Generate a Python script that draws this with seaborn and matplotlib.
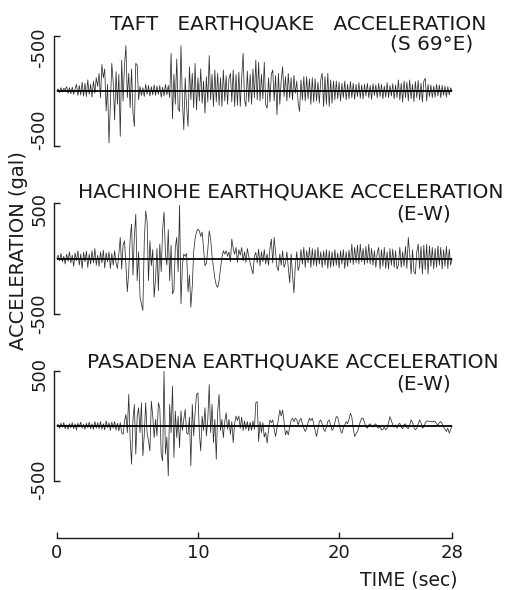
import numpy as np
import pandas as pd
import matplotlib
matplotlib.use("Agg")
import matplotlib.pyplot as plt
import matplotlib.transforms as mtransforms
import seaborn as sns

# Ground acceleration records (gal), sampled every 0.1 s from 0 to 28 s
DT = 0.1

TAFT = [
    0, 20, -15, 30, -10, 25, 10, 40, -20, 30,
    -25, 35, -30, 20, 60, -40, 50, -35, 80, -45,
    70, -50, 100, -30, 60, -55, 90, -20, 120, 40,
    160, -60, 240, 120, 200, -180, 60, -470, -100, 250,
    80, -260, 175, -120, 150, -410, 280, -90, 230, 410,
    -60, 160, -150, 200, -200, -320, 250, 235, -80, 40,
    -40, 30, -50, 60, -30, 50, -45, 40, -35, 55,
    -40, 45, -30, 50, -55, 35, -45, 60, -35, 50,
    -60, 340, -250, 150, -120, 290, -160, -185, 410, -90,
    -350, 120, -140, -320, 220, -80, 160, -150, 250, -170,
    120, -90, 200, -110, 90, -200, 130, -100, 320, -80,
    150, -140, 190, -100, 160, -130, 120, -140, 190, -90,
    140, -120, 110, 160, -100, 190, -140, 150, -130, 170,
    -140, 120, 340, -80, -140, 180, -100, 150, -120, 200,
    -60, 280, -80, 260, -90, 150, -70, 260, -120, -155,
    120, -100, 150, 190, -90, 140, -215, 160, -120, 100,
    220, -50, 130, -90, 160, -60, 120, -80, 140, -20,
    90, -110, -185, 100, -80, 130, -90, 130, -70, 110,
    -120, 120, -100, 110, -90, 80, -110, 100, 160, -140,
    130, -120, 160, -140, 100, -110, 90, -80, 90, -70,
    80, -90, 70, -60, 90, -80, 60, -70, 85, -60,
    70, -75, 60, -50, 75, -65, 55, -70, 60, -45,
    70, -60, 50, -75, 65, -40, 55, -60, 70, -50,
    60, -70, 45, -55, 75, -60, 50, -45, 65, -70,
    55, -60, 100, -80, 70, -100, 90, -60, 80, -90,
    100, -70, 60, -95, 85, -60, 95, -80, 70, -100,
    90, 115, -90, 60, -50, 55, -60, 45, -55, 60,
    -45, 55, -60, 50, -40, 45, -55, 40, -35, 30,
    0,
]

HACHINOHE = [
    0, 30, -20, 45, -30, 20, -50, 40, -25, 60,
    -40, 30, -70, 50, -20, 70, -60, 40, -90, 55,
    -30, 65, -80, 40, -50, 70, -40, 90, -60, 30,
    -70, 60, -40, 75, -85, 50, -30, 60, -90, 45,
    -60, 70, -40, -90, 40, 190, -95, 120, 160, -60,
    -300, -120, 180, 310, -150, 200, 400, -200, 60, -350,
    -410, -470, 150, 430, 340, -200, 160, -65, 80, -350,
    -180, 90, -290, 130, -120, 260, 420, 40, -60, 260,
    -200, 120, -320, -290, 100, 190, -120, 480, -410, -60,
    40, 20, 45, -300, -150, -440, -250, 60, 180, 240,
    265, 250, 200, 240, 90, -65, -40, 80, 250, 180,
    20, -80, -180, -240, -260, -200, -90, 10, 70, 40,
    70, 20, 60, -30, 175, 90, 40, 100, -35, 80,
    30, 100, -20, 60, -35, 90, 20, -40, -90, -140,
    20, 55, -40, 85, -65, 60, -30, 80, -50, 40,
    -60, 90, 175, -40, 190, 60, -80, -110, 40, -60,
    70, -80, -40, 60, -80, -220, 40, -150, -310, -60,
    60, -110, -60, 80, -50, 100, -80, 70, -40, 100,
    -80, 90, -60, 80, -70, 100, -50, 60, -80, 70,
    -60, 80, -90, 70, -80, 60, -70, 80, -60, 50,
    -85, 70, -50, 80, -90, 60, -70, 75, -40, 130,
    -55, 100, -40, 120, -50, 130, -30, 90, -55, 110,
    -40, 130, -50, 90, -60, 70, -80, 50, 100, -95,
    80, -70, 100, -90, 60, -95, 90, -60, 85, -80,
    70, -95, -60, 100, -80, 60, -70, 110, -90, 190,
    40, -140, 80, -120, -140, 60, 130, -90, 110, -140,
    120, -100, 130, -140, 115, -70, 100, -95, 90, -80,
    115, -60, 100, -95, 80, -70, 110, -90, 85, -60,
    0,
]

PASADENA = [
    0, 15, -20, 25, -10, 30, -25, 10, -30, 20,
    -15, 30, -25, 20, -35, 25, -10, 35, -20, 15,
    -30, 25, -15, 35, -25, 20, -30, 40, -20, 30,
    -25, 40, -30, 20, -35, 45, -15, 30, -40, 35,
    -20, 40, -35, 25, -45, 30, -60, -75, 40, 105,
    -60, 285, -120, -345, 60, 195, -255, 90, 165, -60,
    210, -270, -80, 210, -60, -135, -225, 225, 90, -105,
    60, -90, 210, 165, -255, -315, 495, -255, -100, -450,
    195, -60, 360, -285, 135, -105, 90, -195, 135, -40,
    60, 150, -60, -75, 80, -360, 195, -90, 120, 285,
    300, -60, -225, 90, -40, 165, -90, 60, 375, -60,
    195, -150, 60, -300, 135, 285, -40, 60, -105, 40,
    120, -30, 60, -75, 40, -150, 20, 90, 50, 90,
    -20, 80, -40, 45, -30, 40, -45, 35, -40, 45,
    -30, 210, 220, -140, 40, -60, 30, -100, -60, -155,
    -40, 55, 30, 55, -30, -95, -20, 60, 145, 90,
    145, 40, -80, -40, -80, -10, 50, 70, 40, 70,
    60, 10, 50, 70, 20, -20, -50, -20, 30, 70,
    50, 70, 20, -40, -95, -30, 40, 55, 20, -30,
    -50, -10, 40, 55, 10, -40, -20, 30, 85, 80,
    20, -40, -65, -20, 10, 40, 20, 60, 115, 80,
    -20, -95, -70, -50, -10, 40, 70, 70, 30, -10,
    -20, 10, 20, 0, -10, 10, 20, -10, -20, 0,
    -35, -30, -10, -35, -20, 30, 85, 50, 10, -10,
    10, -20, 15, 25, -10, -25, 10, 20, -15, -25,
    10, 55, 30, -10, -35, -20, 20, 55, 30, -20,
    -10, 30, 45, 45, 40, 45, 35, 45, 40, 20,
    10, 30, 40, 20, -10, -30, -50, -20, -65, -30,
    0,
]

TITLES = [
    "TAFT   EARTHQUAKE   ACCELERATION",
    "HACHINOHE EARTHQUAKE ACCELERATION",
    "PASADENA EARTHQUAKE ACCELERATION",
]
COMPONENTS = ["(S 69°E)", "(E-W)", "(E-W)"]
Y_TICKS = [500, -500]
Y_TICK_LABELS = [
    ["-500", "-500"],
    ["500", "-500"],
    ["500", "-500"],
]
TIME_TICKS = [0, 10, 20, 28]
TIME_TICK_LABELS = ["0", "10", "20", "28"]

sns.set_theme(style="white")
plt.rcParams["font.family"] = ["DejaVu Sans"]

W, H = 509, 590
fig = plt.figure(figsize=(W / 100, H / 100), dpi=100)
fig.patch.set_facecolor("white")
INK = "#1a1a1a"
TRACE = "#2e2e2e"


def fpos(x, y):
    """Pixel position (from the top-left corner) to figure fraction."""
    return x / W, 1 - y / H


XLIM = (-0.2, 28.3)
YLIM = (-560, 560)
AX_LEFT = 53.9 / W
AX_WIDTH = 402.4 / W
AX_HEIGHT = 123.9 / H

panels = [
    dict(values=TAFT, zero=91.0, nudge=(-12, 17), title_xy=(298.5, 30), comp_xy=(432, 50)),
    dict(values=HACHINOHE, zero=258.5, nudge=(-6, 0), title_xy=(291, 197), comp_xy=(424, 220)),
    dict(values=PASADENA, zero=426.0, nudge=(-3, 2), title_xy=(292.5, 367), comp_xy=(424, 390)),
]

for i, p in enumerate(panels):
    vals = np.asarray(p["values"], dtype=float)
    t = np.round(np.arange(len(vals)) * DT, 2)
    df = pd.DataFrame({"time": t, "acc": vals})

    bottom = 1 - (p["zero"] + AX_HEIGHT * H / 2) / H
    ax = fig.add_axes([AX_LEFT, bottom, AX_WIDTH, AX_HEIGHT])
    ax.patch.set_visible(False)
    sns.lineplot(data=df, x="time", y="acc", ax=ax, color=TRACE, linewidth=0.55,
                 estimator=None, sort=False)
    ax.hlines(0, df["time"].iloc[0], df["time"].iloc[-1], color="black", linewidth=1.3)

    ax.set_xlim(*XLIM)
    ax.set_ylim(*YLIM)
    ax.set_xlabel("")
    ax.set_ylabel("")
    ax.set_xticks([])
    for side in ("top", "right", "bottom"):
        ax.spines[side].set_visible(False)
    ax.spines["left"].set_bounds(-500, 500)
    ax.spines["left"].set_linewidth(1.0)
    ax.spines["left"].set_color(INK)

    ax.set_yticks(Y_TICKS)
    ax.set_yticklabels(Y_TICK_LABELS[i])
    ax.tick_params(axis="y", left=True, direction="in", length=4.3, width=1.0,
                   pad=4, labelsize=13, colors=INK)
    for lab, dy in zip(ax.get_yticklabels(), p["nudge"]):
        lab.set_rotation(90)
        lab.set_va("center")
        lab.set_transform(lab.get_transform() +
                          mtransforms.ScaledTranslation(0, dy / 100, fig.dpi_scale_trans))

    fig.text(*fpos(*p["title_xy"]), TITLES[i], ha="center", va="baseline",
             fontsize=14.5, color=INK)
    fig.text(*fpos(*p["comp_xy"]), COMPONENTS[i], ha="center", va="baseline",
             fontsize=14.5, color=INK)

# Shared time axis
axt = fig.add_axes([AX_LEFT, 1 - 538 / H, AX_WIDTH, 0.05])
axt.patch.set_visible(False)
axt.set_xlim(*XLIM)
axt.set_yticks([])
for side in ("top", "right", "left"):
    axt.spines[side].set_visible(False)
axt.spines["bottom"].set_bounds(TIME_TICKS[0], TIME_TICKS[-1])
axt.spines["bottom"].set_linewidth(1.0)
axt.spines["bottom"].set_color(INK)
axt.set_xticks(TIME_TICKS)
axt.set_xticklabels(TIME_TICK_LABELS)
axt.tick_params(axis="x", bottom=True, direction="in", length=4.5, width=1.0,
                pad=4.5, labelsize=13, colors=INK)

fig.text(*fpos(458, 585), "TIME (sec)", ha="right", va="baseline", fontsize=13.5, color=INK)
fig.text(*fpos(19, 251), "ACCELERATION (gal)", rotation=90, ha="center", va="center",
         fontsize=14, color=INK)

fig.savefig("out.png", dpi=100, facecolor="white")
